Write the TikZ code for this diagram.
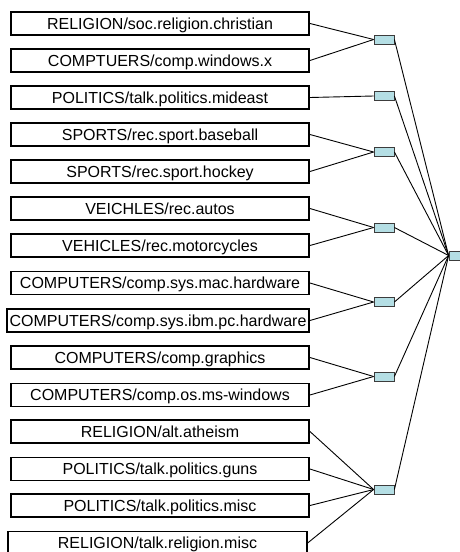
\documentclass[tikz,border=0pt]{standalone}
\usepackage{fontspec}
\setmainfont{Liberation Sans}
\definecolor{nodeblue}{RGB}{180,222,228}
\definecolor{nodeedge}{RGB}{60,60,60}
\begin{document}
\begin{tikzpicture}[x=1pt,y=-1pt,
  leaf/.style={draw=black, line width=1.9pt, rectangle, inner sep=0pt,
    minimum width=298pt, minimum height=23pt,
    font=\fontsize{16}{17}\selectfont, text height=11.4pt, text depth=0pt},
  joint/.style={draw=nodeedge, line width=0.8pt, fill=nodeblue, rectangle,
    inner sep=0pt, minimum width=20pt, minimum height=9pt},
  link/.style={draw=black, line width=0.9pt}]
\useasboundingbox (0,0) rectangle (459,552);

% category boxes
\node[leaf] (b1)  at (160,23.5)  {RELIGION/soc.religion.christian};
\node[leaf] (b2)  at (160,60.5)  {COMPTUERS/comp.windows.x};
\node[leaf] (b3)  at (160,97.5)  {POLITICS/talk.politics.mideast};
\node[leaf] (b4)  at (160,134.5) {SPORTS/rec.sport.baseball};
\node[leaf] (b5)  at (160,171.5) {SPORTS/rec.sport.hockey};
\node[leaf] (b6)  at (160,208.5) {VEICHLES/rec.autos};
\node[leaf] (b7)  at (160,245.5) {VEHICLES/rec.motorcycles};
\node[leaf] (b8)  at (160,283)   {COMPUTERS/comp.sys.mac.hardware};
\node[leaf, minimum width=302pt] (b9) at (158,320.5) {COMPUTERS/comp.sys.ibm.pc.hardware};
\node[leaf] (b10) at (160,357.5) {COMPUTERS/comp.graphics};
\node[leaf] (b11) at (160,395)   {COMPUTERS/comp.os.ms-windows};
\node[leaf] (b12) at (160,431.5) {RELIGION/alt.atheism};
\node[leaf] (b13) at (160,469)   {POLITICS/talk.politics.guns};
\node[leaf] (b14) at (160,505.5) {POLITICS/talk.politics.misc};
\node[leaf, minimum width=298.4pt] (b15) at (157.5,543) {RELIGION/talk.religion.misc};

% intermediate joints
\node[joint] (g1) at (384,39.5)  {};
\node[joint] (g2) at (384,96)    {};
\node[joint] (g3) at (384,152)   {};
\node[joint] (g4) at (384,227.5) {};
\node[joint] (g5) at (384,302)   {};
\node[joint] (g6) at (384,376.5) {};
\node[joint] (g7) at (384,489.5) {};

% root joint
\node[joint] (root) at (459,255.5) {};

% leaves to joints
\draw[link] (b1.east) -- (g1.west);
\draw[link] (b2.east) -- (g1.west);
\draw[link] (b3.east) -- (g2.west);
\draw[link] (b4.east) -- (g3.west);
\draw[link] (b5.east) -- (g3.west);
\draw[link] (b6.east) -- (g4.west);
\draw[link] (b7.east) -- (g4.west);
\draw[link] (b8.east) -- (g5.west);
\draw[link] (b9.east) -- (g5.west);
\draw[link] (b10.east) -- (g6.west);
\draw[link] (b11.east) -- (g6.west);
\draw[link] (b12.east) -- (g7.west);
\draw[link] (b13.east) -- (g7.west);
\draw[link] (b14.east) -- (g7.west);
\draw[link] (b15.east) -- (g7.west);

% joints to root
\foreach \g in {g1,g2,g3,g4,g5,g6,g7}
  \draw[link] (\g.east) -- (root.west);
\end{tikzpicture}
\end{document}
